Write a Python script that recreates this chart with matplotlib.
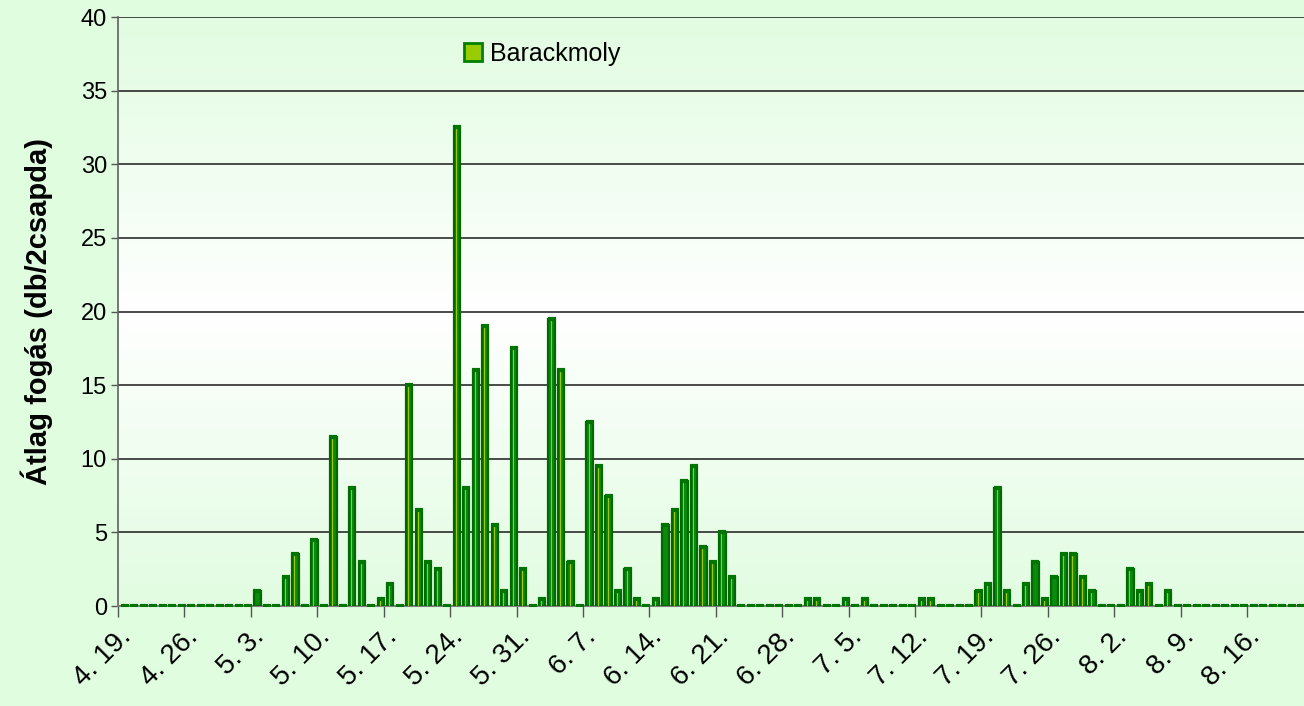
import datetime as dt
import numpy as np
import matplotlib.pyplot as plt
from matplotlib.colors import LinearSegmentedColormap
from matplotlib.patches import Patch

# --- adatok: napi átlag fogás, 4. 19. -tól ---
start_date = dt.date(2009, 4, 19)
week1 = [0, 0, 0, 0, 0, 0, 0]          # 4.19 - 4.25
week2 = [0, 0, 0, 0, 0, 0, 0]          # 4.26 - 5.2
week3 = [1.0, 0, 0, 2.0, 3.5, 0, 4.5]  # 5.3 - 5.9
week4 = [0, 11.5, 0, 8.0, 3.0, 0, 0.5]
week5 = [1.5, 0, 15.0, 6.5, 3.0, 2.5, 0]
week6 = [32.5, 8.0, 16.0, 19.0, 5.5, 1.0, 17.5]
week7 = [2.5, 0, 0.5, 19.5, 16.0, 3.0, 0]
week8 = [12.5, 9.5, 7.5, 1.0, 2.5, 0.5, 0]
week9 = [0.5, 5.5, 6.5, 8.5, 9.5, 4.0, 3.0]
week10 = [5.0, 2.0, 0, 0, 0, 0, 0]
week11 = [0, 0, 0.5, 0.5, 0, 0, 0.5]
week12 = [0, 0.5, 0, 0, 0, 0, 0]
week13 = [0.5, 0.5, 0, 0, 0, 0, 1.0]
week14 = [1.5, 8.0, 1.0, 0, 1.5, 3.0, 0.5]
week15 = [2.0, 3.5, 3.5, 2.0, 1.0, 0, 0]
week16 = [0, 2.5, 1.0, 1.5, 0, 1.0, 0]
week17 = [0, 0, 0, 0, 0, 0, 0]
week18 = [0, 0, 0, 0, 0, 0]            # 8.16 - 8.21

values = (week1 + week2 + week3 + week4 + week5 + week6 + week7 + week8 + week9
          + week10 + week11 + week12 + week13 + week14 + week15 + week16 + week17 + week18)
dates = [start_date + dt.timedelta(days=k) for k in range(len(values))]
date_labels = [f"{d.month}. {d.day}." for d in dates]
series_name = 'Barackmoly'
y_label = 'Átlag fogás (db/2csapda)'

plt.rcParams['font.family'] = ['Liberation Sans', 'DejaVu Sans']

bg = '#e0fde0'
fig = plt.figure(figsize=(13.04, 7.06), dpi=100, facecolor=bg)
ax = fig.add_axes([0.0905, 0.1416, 0.9095, 0.8343])
ax.set_facecolor('none')

# plot area: világoszöld -> fehér -> világoszöld
cmap = LinearSegmentedColormap.from_list('wall', ['#e1fce1', '#ffffff', '#e1fce1'])
grad = np.linspace(0, 1, 256).reshape(-1, 1)
ax.imshow(grad, cmap=cmap, aspect='auto', extent=[0, 1, 0, 1],
          transform=ax.transAxes, zorder=0)

# oszlopok (enyhe 3D eltolással jobbra)
x = np.arange(len(values)) + 0.2
ax.bar(x, values, width=0.66, color='#0b8a0b', edgecolor='#006a00',
       linewidth=1.6, zorder=3)
ax.bar(x - 0.05, values, width=0.1, color='#a3cc00', linewidth=0, zorder=4)
# oszlopok teteje (a nulla értékeknél ez adja a kis szaggatott jelet)
ax.plot(x, values, ls='none', marker='_', ms=5.2, mew=3, color='#007400', zorder=5)

ax.set_xlim(-0.5, len(values) - 0.5)
ax.set_ylim(0, 40)
ax.set_yticks(np.arange(0, 41, 5))
ax.yaxis.grid(True, color='#1a1a1a', linewidth=1.1, zorder=1)
ax.set_axisbelow(True)

tick_pos = np.arange(0, len(values), 7)
ax.set_xticks(tick_pos - 0.5)
ax.set_xticklabels([date_labels[k] for k in tick_pos], rotation=45,
                   ha='right', rotation_mode='anchor')

ax.tick_params(axis='x', length=8, width=1, color='#555555', labelsize=20, pad=5)
ax.tick_params(axis='y', length=5, width=1, color='#555555', labelsize=17, pad=3)

for side in ['top', 'right']:
    ax.spines[side].set_visible(False)
ax.spines['left'].set_color('#606060')
ax.spines['bottom'].set_color('#808080')
ax.spines['left'].set_linewidth(1.2)
ax.spines['bottom'].set_linewidth(1.5)

ax.set_ylabel(y_label, fontsize=21, fontweight='bold', labelpad=20)

handle = Patch(facecolor='#99cc00', edgecolor='#008000', linewidth=2, label=series_name)
ax.legend(handles=[handle], loc='upper left', bbox_to_anchor=(0.283, 0.975),
          frameon=False, fontsize=18, handlelength=0.75, handleheight=0.75,
          handletextpad=0.3, borderaxespad=0)

fig.savefig('out.png', dpi=100, facecolor=bg)
